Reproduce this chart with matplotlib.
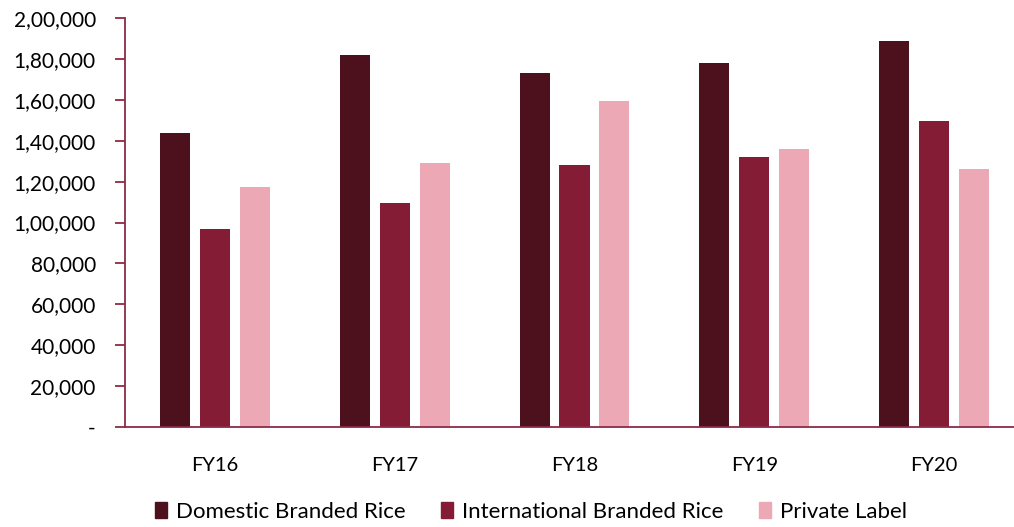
import matplotlib.pyplot as plt
from matplotlib.ticker import FuncFormatter
from matplotlib.patches import Patch

plt.rcParams['font.family'] = ['Lato', 'DejaVu Sans']

years = ['FY16', 'FY17', 'FY18', 'FY19', 'FY20']
domestic = [143700, 182000, 173000, 178000, 188700]
international = [96800, 109500, 128200, 132100, 149700]
private_label = [117200, 129100, 159500, 136000, 126200]

series_names = ['Domestic Branded Rice', 'International Branded Rice', 'Private Label']
colors = ['#4d111e', '#841c35', '#eca8b5']
axis_color = '#8c2a48'


def indian_fmt(v, pos):
    v = int(round(v))
    if v == 0:
        return '-'
    s = str(v)
    last3 = s[-3:]
    rest = s[:-3]
    parts = []
    while len(rest) > 2:
        parts.insert(0, rest[-2:])
        rest = rest[:-2]
    if rest:
        parts.insert(0, rest)
    return ','.join(parts + [last3])


W, H = 1014, 527
fig = plt.figure(figsize=(W / 100, H / 100), dpi=100)
ax = fig.add_axes([125 / W, 1 - 426.7 / H, 899 / W, (426.7 - 18.3) / H])

x = list(range(len(years)))
width = 0.167
offset = 0.222
for i, (vals, name, c) in enumerate(zip([domestic, international, private_label], series_names, colors)):
    ax.bar([xi + (i - 1) * offset for xi in x], vals, width=width, color=c, label=name)

ax.set_xlim(-0.5, 4.5)
ax.set_ylim(0, 200000)
ax.set_yticks(range(0, 200001, 20000))
ax.yaxis.set_major_formatter(FuncFormatter(indian_fmt))
ax.set_xticks(x)
ax.set_xticklabels(years)

for side in ['top', 'right']:
    ax.spines[side].set_visible(False)
for side in ['left', 'bottom']:
    ax.spines[side].set_color(axis_color)
    ax.spines[side].set_linewidth(1.3)

ax.tick_params(axis='y', length=7, width=1.3, color=axis_color, labelsize=15, pad=14)
ax.tick_params(axis='x', length=0, labelsize=14.5, pad=22)

handles = [Patch(color=c) for c in colors]
fig.legend(handles, series_names, loc='center', bbox_to_anchor=(531 / W, 1 - 512 / H),
           ncol=3, frameon=False, fontsize=16, handlelength=0.55, handleheight=0.7,
           handletextpad=0.4, columnspacing=1.6)

plt.savefig('out.png', dpi=100)
